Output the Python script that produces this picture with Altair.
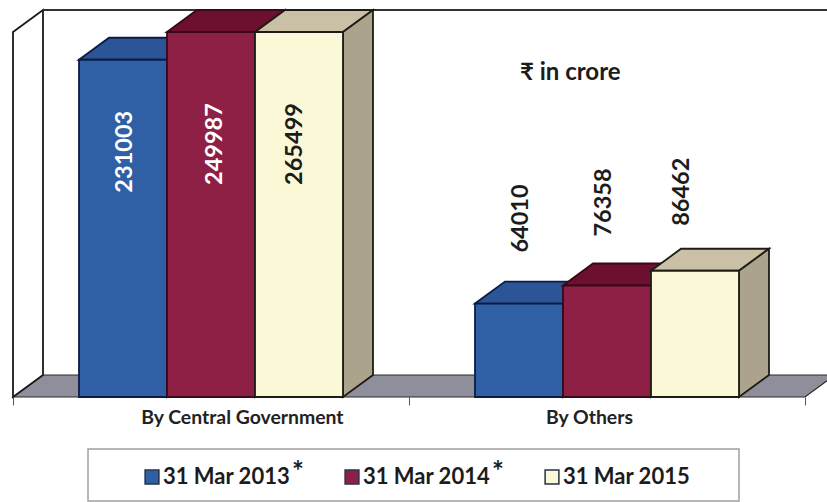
import altair as alt
import pandas as pd

# Outstanding amounts, rupees in crore
categories = ["By Central Government", "By Others"]
series = ["31 Mar 2013", "31 Mar 2014", "31 Mar 2015"]
central = [231003, 249987, 265499]
others = [64010, 76358, 86462]

# Palette: front, top and side faces plus edge colour per series
front_fill = ["#2f5fa5", "#8e1f45", "#fbf8d8"]
top_fill = ["#2b5597", "#6d1030", "#c9c0a6"]
side_fill = ["#27497f", "#5e0d28", "#aba38b"]
edge = ["#0a1c45", "#3a0818", "#1e1c14"]
label_color = ["white", "white", "#1c1c1c"]

# Layout of the pseudo-3D frame
AXIS_MAX = 250000
PX_PER_VALUE = 365 / AXIS_MAX
PX_PER_CAT = 396
DEPTH_X = 30 / PX_PER_CAT
DEPTH_Y = 22 / PX_PER_VALUE
GAP = 1 / 6
BAR_W = 2 / 9
WIDTH, HEIGHT = 814, 387
X_MAX = WIDTH / PX_PER_CAT
Y_MAX = AXIS_MAX + DEPTH_Y
FONT = "Lato"

# Label nudges in pixels (right, up) relative to each bar's top centre
nudge_central = [(2, -92), (4, -112), (-4, -112)]
nudge_others = [(2, 85), (-3, 83), (-13, 79)]

x_scale = alt.Scale(domain=[0, X_MAX], nice=False, zero=False)
y_scale = alt.Scale(domain=[0, Y_MAX], nice=False, zero=False)

# Category axis: ticks at the band edges, names under the bar groups
NAME_AT = [0.578, 1.4545]
category_axis = alt.Axis(
    values=[0, NAME_AT[0], 1, NAME_AT[1], 2],
    title=None,
    grid=False,
    domain=False,
    labelExpr=(
        f"datum.value === {NAME_AT[0]} ? '{categories[0]}' : "
        f"datum.value === {NAME_AT[1]} ? '{categories[1]}' : ''"
    ),
    tickSize=8,
    tickColor="#555555",
    tickOpacity={"condition": {"test": "datum.value % 1 === 0", "value": 1}, "value": 0},
    labelFont=FONT,
    labelFontWeight="bold",
    labelFontSize=19.4,
    labelColor="#222222",
    labelPadding=3,
    labelFlush=False,
    labelOverlap=False,
    labelLimit=320,
)
x_plain = alt.X("x:Q", scale=x_scale, axis=category_axis)
y_plain = alt.Y("y:Q", scale=y_scale, axis=None)
y2_plain = alt.Y2("y2:Q")


def area_face(rows, fill, stroke, width=1.8):
    return alt.Chart(pd.DataFrame(rows)).mark_area(
        fill=fill, stroke=stroke, strokeWidth=width, orient="vertical", clip=False, opacity=1
    ).encode(x=x_plain, y=y_plain, y2=y2_plain, detail="face:N")


def top_rows(x0, v):
    h = min(v, AXIS_MAX)
    return [
        {"face": x0, "x": x0, "y": h, "y2": h},
        {"face": x0, "x": x0 + DEPTH_X, "y": h + DEPTH_Y, "y2": h},
        {"face": x0, "x": x0 + BAR_W, "y": h + DEPTH_Y, "y2": h},
        {"face": x0, "x": x0 + BAR_W + DEPTH_X, "y": h + DEPTH_Y, "y2": h + DEPTH_Y},
    ]


def side_rows(x0, v):
    h = min(v, AXIS_MAX)
    x1 = x0 + BAR_W
    return [
        {"face": x0, "x": x1, "y": h, "y2": 0},
        {"face": x0, "x": x1 + DEPTH_X, "y": h + DEPTH_Y, "y2": DEPTH_Y},
    ]


# Walls and floor behind the bars
floor = area_face(
    [
        {"face": "floor", "x": 0, "y": 0, "y2": 0},
        {"face": "floor", "x": DEPTH_X, "y": DEPTH_Y, "y2": 0},
        {"face": "floor", "x": 2, "y": DEPTH_Y, "y2": 0},
        {"face": "floor", "x": 2 + DEPTH_X, "y": DEPTH_Y, "y2": DEPTH_Y},
    ],
    "#8f8f9b", "#2a2a2a", 1.2,
)
left_wall = area_face(
    [
        {"face": "wall", "x": 0, "y": AXIS_MAX, "y2": 0},
        {"face": "wall", "x": DEPTH_X, "y": Y_MAX, "y2": DEPTH_Y},
    ],
    "white", "#1a1a1a", 1.8,
)
back_line = (
    alt.Chart(pd.DataFrame({"x": [DEPTH_X], "x2": [X_MAX], "y": [Y_MAX]}))
    .mark_rule(color="#333333", strokeWidth=1.8, clip=False)
    .encode(x=x_plain, x2="x2:Q", y=y_plain)
)

color = alt.Color(
    "series:N",
    scale=alt.Scale(domain=series, range=front_fill),
    legend=alt.Legend(
        title=None,
        orient="none",
        direction="horizontal",
        columns=3,
        columnPadding=50,
        legendX=128,
        legendY=456,
        symbolType="square",
        symbolSize=190,
        symbolStrokeWidth=1.5,
        symbolStrokeColor="#26304a",
        labelFont=FONT,
        labelFontSize=22,
        labelFontWeight="bold",
        labelColor="#1c1c1c",
        labelOffset=0,
        labelLimit=200,
    ),
)

layers = [floor, left_wall, back_line]

# Painter's order: each series hides the hidden faces of the one before it
for s, name in enumerate(series):
    values = [central[s], others[s]]
    starts = [c + GAP + s * BAR_W for c in range(len(categories))]
    top = [dict(r, face=f"t{i}") for i, (x0, v) in enumerate(zip(starts, values)) for r in top_rows(x0, v)]
    side = [dict(r, face=f"s{i}") for i, (x0, v) in enumerate(zip(starts, values)) for r in side_rows(x0, v)]
    layers.append(area_face(top, top_fill[s], edge[s]))
    layers.append(area_face(side, side_fill[s], edge[s]))
    front = pd.DataFrame(
        {
            "x": starts,
            "x2": [x0 + BAR_W for x0 in starts],
            "y": [min(v, AXIS_MAX) for v in values],
            "y0": [0, 0],
            "series": [name, name],
        }
    )
    layers.append(
        alt.Chart(front)
        .mark_rect(stroke=edge[s], strokeWidth=1.8, clip=False)
        .encode(x=x_plain, x2="x2:Q", y=y_plain, y2="y0:Q", color=color)
    )

# Value labels, rotated along the bars
for s, name in enumerate(series):
    for c, (value, (dx, dy)) in enumerate(
        [(central[s], nudge_central[s]), (others[s], nudge_others[s])]
    ):
        row = {
            "x": c + GAP + s * BAR_W + BAR_W / 2 + dx / PX_PER_CAT,
            "y": min(value, AXIS_MAX) + dy / PX_PER_VALUE,
            "text": str(value),
        }
        ink = label_color[s] if c == 0 else "#1c1c1c"
        layers.append(
            alt.Chart(pd.DataFrame([row]))
            .mark_text(
                angle=270, font=FONT, fontWeight="bold", fontSize=23.5,
                color=ink, align="center", baseline="middle", clip=False,
            )
            .encode(x=x_plain, y=y_plain, text="text:N")
        )

# Unit note, legend frame and the footnote stars beside the legend
unit_note = alt.Chart(pd.DataFrame({"text": ["₹ in crore"]})).mark_text(
    font=FONT, fontWeight="bold", fontSize=24, color="#1c1c1c", align="left", baseline="middle"
).encode(x=alt.value(507), y=alt.value(63), text="text:N")
legend_frame = alt.Chart(pd.DataFrame({"k": [0]})).mark_rect(
    fill="white", stroke="#a0a0a0", strokeWidth=1.5
).encode(x=alt.value(75), x2=alt.value(726), y=alt.value(439), y2=alt.value(491))
star_2013 = alt.Chart(pd.DataFrame({"text": ["*"]})).mark_text(
    font=FONT, fontWeight="bold", fontSize=28, color="#1c1c1c"
).encode(x=alt.value(285), y=alt.value(463), text="text:N")
star_2014 = alt.Chart(pd.DataFrame({"text": ["*"]})).mark_text(
    font=FONT, fontWeight="bold", fontSize=28, color="#1c1c1c"
).encode(x=alt.value(485), y=alt.value(463), text="text:N")

chart = (
    alt.layer(legend_frame, *layers, unit_note, star_2013, star_2014)
    .properties(
        width=WIDTH,
        height=HEIGHT,
        padding={"left": 13, "top": 10, "right": 0, "bottom": 105},
        autosize=alt.AutoSizeParams(type="none"),
        background="white",
    )
    .configure_view(stroke=None)
)

chart.save("out.html", embed_options={"renderer": "svg", "actions": False})
